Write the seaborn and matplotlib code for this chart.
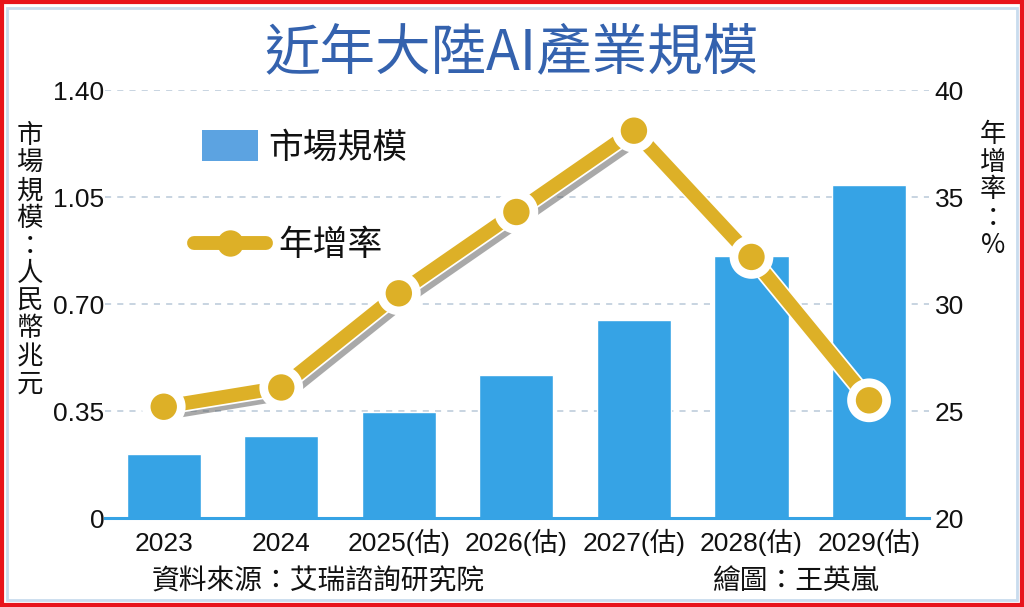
import matplotlib
matplotlib.use("Agg")
import matplotlib.pyplot as plt
import matplotlib.patheffects as pe
from matplotlib.patches import Patch, Rectangle
from matplotlib.lines import Line2D
import numpy as np
import pandas as pd
import seaborn as sns

# data
years = ["2023", "2024", "2025(估)", "2026(估)", "2027(估)", "2028(估)", "2029(估)"]
market_size = [0.21, 0.268, 0.347, 0.468, 0.648, 0.857, 1.089]  # 人民幣兆元
growth_rate = [25.2, 26.1, 30.5, 34.3, 38.1, 32.2, 25.5]  # %
left_ticks = [0, 0.35, 0.70, 1.05, 1.40]
left_ticklabels = ["0", "0.35", "0.70", "1.05", "1.40"]
right_ticks = [20, 25, 30, 35, 40]

bar_color = "#36A3E5"
line_color = "#DDB027"
title_color = "#3462AE"
text_color = "#111111"

sns.set_style("white")
plt.rcParams["font.family"] = ["Liberation Sans", "Noto Sans CJK TC", "DejaVu Sans"]
cjk = ["Noto Sans CJK TC", "DejaVu Sans"]

df = pd.DataFrame({"year": years, "size": market_size, "rate": growth_rate,
                   "pos": np.arange(len(years))})

fig = plt.figure(figsize=(10.24, 6.07), dpi=100)
ax = fig.add_axes([0.1025, 0.1466, 0.8047, 0.7051])

sns.barplot(data=df, x="year", y="size", color=bar_color, width=0.63,
            saturation=1, ax=ax, zorder=2)
ax.set_xlim(-0.5, 6.51)
ax.set_ylim(0, 1.40)
ax.set_yticks(left_ticks)
ax.set_yticklabels(left_ticklabels)
ax.set_xlabel("")
ax.set_ylabel("")
ax.set_axisbelow(True)
ax.yaxis.grid(True, color="#B9C9D9", linestyle=(0, (4, 4)), linewidth=1.1)
for s in ["top", "right", "left"]:
    ax.spines[s].set_visible(False)
ax.spines["bottom"].set_color(bar_color)
ax.spines["bottom"].set_linewidth(2.2)
ax.tick_params(axis="x", direction="out", length=6, width=2, color=bar_color,
               labelsize=19, pad=17.5, labelcolor=text_color)
for lab in ax.get_xticklabels():
    lab.set_verticalalignment("baseline")
ax.tick_params(axis="y", length=0, labelsize=19, pad=0.5, labelcolor=text_color)

ax2 = ax.twinx()
sns.lineplot(data=df, x="pos", y="rate", color=line_color, linewidth=10,
             marker="o", markersize=19, markeredgewidth=0, ax=ax2,
             solid_capstyle="round", solid_joinstyle="round", zorder=5)
for ln in ax2.lines:
    ln.set_path_effects([
        pe.SimpleLineShadow(offset=(4, -4), shadow_color="#555555", alpha=0.5),
        pe.Stroke(linewidth=12.5, foreground="white"),
        pe.Normal(),
    ])
ax2.set_ylim(20, 40)
ax2.set_yticks(right_ticks)
ax2.set_xlabel("")
ax2.set_ylabel("")
for s in ax2.spines.values():
    s.set_visible(False)
ax2.tick_params(axis="y", length=0, labelsize=19, pad=4, labelcolor=text_color)
ax2.set_xlim(-0.5, 6.51)

# legend: two separate entries so each handle keeps its own size
leg1 = fig.legend([Patch(facecolor="#5CA3E1", edgecolor="none")], ["市場規模"],
                  loc="center left", bbox_to_anchor=(202 / 1024, 1 - 148 / 607),
                  frameon=False, prop={"family": cjk, "size": 25},
                  handlelength=1.6, handleheight=1.0, handletextpad=0.3,
                  borderpad=0, borderaxespad=0)
leg2 = fig.legend([Line2D([], [], color=line_color, linewidth=10, marker="o",
                          markersize=19, markeredgewidth=0)], ["年增率"],
                  loc="center left", bbox_to_anchor=(194 / 1024, 1 - 246 / 607),
                  frameon=False, prop={"family": cjk, "size": 25},
                  handlelength=2.07, handletextpad=0.35,
                  borderpad=0, borderaxespad=0)
for leg in (leg1, leg2):
    for t in leg.get_texts():
        t.set_color(text_color)

# title and axis captions
fig.text(0.5, 0.912, "近年大陸AI產業規模", ha="center", va="center",
         fontsize=40, fontweight="medium", color=title_color, family=cjk)
fig.text(0.029, 0.572, "\n".join("市場規模：人民幣兆元"), ha="center", va="center",
         fontsize=19, linespacing=1.03, color=text_color, family=cjk)
fig.text(0.970, 0.687, "\n".join("年增率：%"), ha="center", va="center",
         fontsize=19, linespacing=1.03, color=text_color, family=cjk)
fig.text(0.148, 0.043, "資料來源：艾瑞諮詢研究院", ha="left", va="center",
         fontsize=20, color=text_color, family=cjk)
fig.text(0.695, 0.043, "繪圖：王英嵐", ha="left", va="center",
         fontsize=20, color=text_color, family=cjk)

# frame
fig.patches.append(Rectangle((0.007, 0.011), 0.986, 0.976, transform=fig.transFigure,
                             fill=False, edgecolor="#C9DCEE", linewidth=2))
fig.patches.append(Rectangle((0.0015, 0.0025), 0.997, 0.995, transform=fig.transFigure,
                             fill=False, edgecolor="#E8141C", linewidth=3))

fig.savefig("out.png", dpi=100)
